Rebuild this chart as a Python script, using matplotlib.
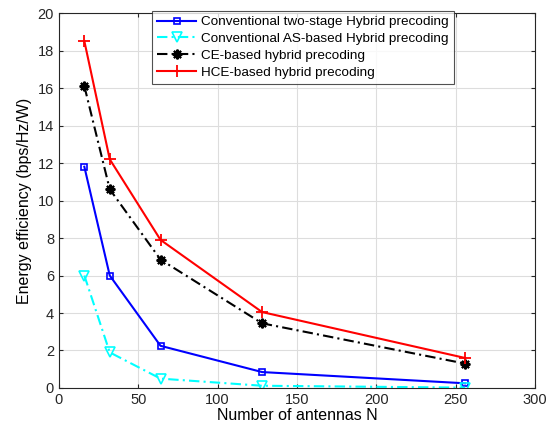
import matplotlib
matplotlib.use("Agg")
import matplotlib.pyplot as plt

N = [16, 32, 64, 128, 256]
ee_two_stage = [11.8, 6.0, 2.25, 0.85, 0.25]
ee_as = [6.0, 1.9, 0.5, 0.12, 0.02]
ee_ce = [16.1, 10.6, 6.85, 3.45, 1.3]
ee_hce = [18.5, 12.2, 7.9, 4.05, 1.6]

plt.rcParams['font.family'] = ['Liberation Sans', 'DejaVu Sans']
fig = plt.figure(figsize=(5.51, 4.34), dpi=100)
ax = fig.add_axes([0.107, 0.106, 0.864, 0.864])

ax.plot(N, ee_two_stage, '-s', color='blue', lw=1.5, ms=5, mfc='none', mew=1.2,
        label='Conventional two-stage Hybrid precoding')
ax.plot(N, ee_as, '--v', color='cyan', lw=1.5, ms=7, mfc='none', mew=1.2,
        dashes=(5, 2, 1, 2), label='Conventional AS-based Hybrid precoding')
ax.plot(N, ee_ce, '-.', color='black', lw=1.5, marker=(8, 2, 0), ms=7, mew=1.5,
        dashes=(5, 2, 1, 2), label='CE-based hybrid precoding')
ax.plot(N, ee_hce, '-+', color='red', lw=1.5, ms=9, mew=1.3,
        label='HCE-based hybrid precoding')

ax.set_xlim(0, 300)
ax.set_ylim(0, 20)
ax.set_xticks(range(0, 301, 50))
ax.set_yticks(range(0, 21, 2))
ax.grid(True, color='#dddddd', lw=0.8)
ax.set_axisbelow(True)
ax.tick_params(direction='in', labelsize=10.5, top=True, right=True, length=3, colors='#262626')
for s in ax.spines.values():
    s.set_color('#262626')
    s.set_linewidth(0.8)
ax.set_xlabel('Number of antennas N', fontsize=11.5, labelpad=1)
ax.set_ylabel('Energy efficiency (bps/Hz/W)', fontsize=11.5, labelpad=4)

leg = ax.legend(loc='upper left', bbox_to_anchor=(0.196, 1.005), fontsize=9.7,
                frameon=True, fancybox=False, edgecolor='#262626',
                borderpad=0.35, labelspacing=0.33, handlelength=2.9, handletextpad=0.4,
                borderaxespad=0)
leg.get_frame().set_linewidth(0.8)

fig.savefig('out.png', dpi=100)
